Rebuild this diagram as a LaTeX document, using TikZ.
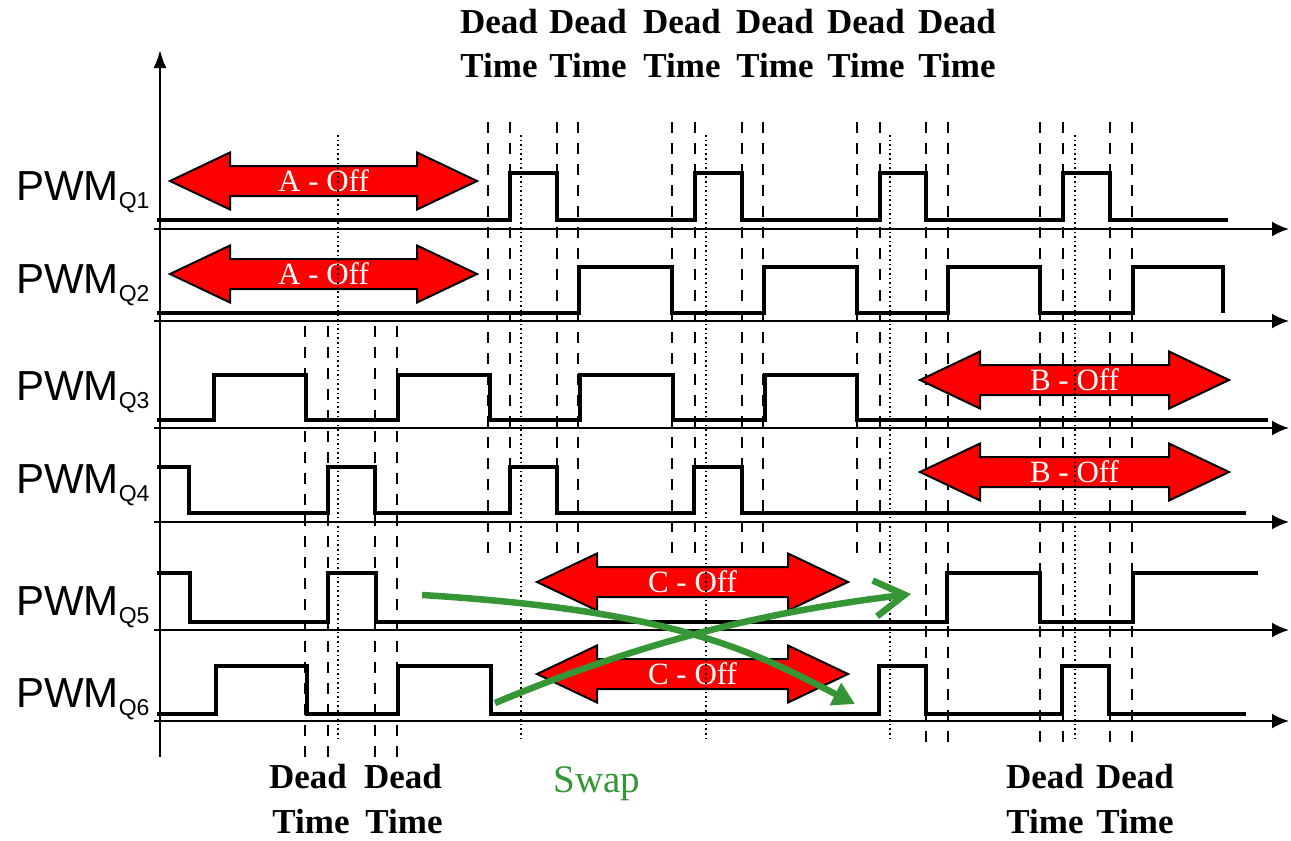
\documentclass[tikz,border=0pt]{standalone}
\usepackage{fontspec}
\setmainfont{Liberation Serif}
\newfontfamily\arialf{Liberation Sans}
\usetikzlibrary{arrows.meta}
\definecolor{swapgreen}{RGB}{52,150,52}
\newcommand\offarrow[5]{%
  \draw[redarrow] (#2,#4) -- ({#2+60},{#4-28.5}) -- ({#2+60},{#4-15}) -- ({#3-60},{#4-15}) -- ({#3-60},{#4-28.5}) -- (#3,#4) -- ({#3-60},{#4+28.5}) -- ({#3-60},{#4+15}) -- ({#2+60},{#4+15}) -- ({#2+60},{#4+28.5}) -- cycle;
  \node[offtext] (#1) at ({(#2+#3)/2},#4) {#5};
}
\begin{document}
\begin{tikzpicture}[x=1pt,y=-1pt,
  wave/.style={line width=3.5pt, line join=miter},
  axisline/.style={line width=2.2pt, -{Latex[length=17pt,width=15pt]}},
  dtline/.style={line width=2.5pt, dash pattern=on 11pt off 10pt},
  midline/.style={line width=1.6pt, dash pattern=on 1.6pt off 3pt},
  redarrow/.style={fill=red, draw=black, line width=2pt, line join=miter},
  offtext/.style={text=white, font=\fontsize{31}{31}\selectfont, inner sep=0pt},
  dtlabel/.style={font=\bfseries\fontsize{35}{35}\selectfont, inner sep=0pt, anchor=base},
  pwmlabel/.style={anchor=base west, inner sep=0pt, font=\arialf\fontsize{42}{42}\selectfont},
  swaparrow/.style={draw=swapgreen, line width=6.5pt}
]
\fill[white] (0,0) rectangle (1291,841);
\useasboundingbox (0,0) rectangle (1291,841);

% vertical axis
\coordinate (vbot) at (160,757);
\coordinate (vtop) at (160,50);
\draw[line width=2.2pt, -{Latex[length=18pt,width=13pt]}] (vbot) -- (vtop);

% horizontal axes
\foreach \i/\y in {1/229,2/321,3/428,4/522,5/630,6/721} {
  \coordinate (ax\i s) at (154,\y);
  \coordinate (ax\i e) at (1289,\y);
  \draw[axisline] (ax\i s) -- (ax\i e);
}

% waveforms
\draw[wave] (157,220) -- (510,220) -- (510,173) -- (557,173) -- (557,220) -- (695,220) -- (695,173) -- (742,173) -- (742,220) -- (880,220) -- (880,173) -- (926,173) -- (926,220) -- (1063,220) -- (1063,173) -- (1110,173) -- (1110,220) -- (1228,220);
\draw[wave] (157,313) -- (579,313) -- (579,267) -- (672,267) -- (672,313) -- (764,313) -- (764,267) -- (857,267) -- (857,313) -- (948,313) -- (948,267) -- (1040,267) -- (1040,313) -- (1133,313) -- (1133,267) -- (1223,267) -- (1223,313);
\draw[wave] (157,420) -- (214,420) -- (214,375) -- (306,375) -- (306,420) -- (398,420) -- (398,375) -- (490,375) -- (490,420) -- (580,420) -- (580,375) -- (673,375) -- (673,420) -- (765,420) -- (765,375) -- (857,375) -- (857,420) -- (1268,420);
\draw[wave] (157,467) -- (189,467) -- (189,513) -- (328,513) -- (328,467) -- (375,467) -- (375,513) -- (510,513) -- (510,467) -- (557,467) -- (557,513) -- (694,513) -- (694,467) -- (742,467) -- (742,513) -- (1246,513);
\draw[wave] (157,573) -- (190,573) -- (190,622) -- (328,622) -- (328,573) -- (376,573) -- (376,622) -- (947,622) -- (947,573) -- (1040,573) -- (1040,622) -- (1133,622) -- (1133,573) -- (1258,573);
\draw[wave] (157,714) -- (216,714) -- (216,666) -- (307,666) -- (307,714) -- (398,714) -- (398,666) -- (491,666) -- (491,714) -- (879,714) -- (879,666) -- (926,666) -- (926,714) -- (1062,714) -- (1062,666) -- (1109,666) -- (1109,714) -- (1246,714);

% dead-time lines
\foreach \x in {305,328,375,397} \draw[dtline] (\x,326) -- (\x,763);
\foreach \x in {488,510,557,578,672,695,742,763,857,880} \draw[dtline] (\x,122) -- (\x,557);
\foreach \x in {926,948,1040,1063,1110,1132} \draw[dtline] (\x,122) -- (\x,750);

% off arrows
\offarrow{aoff1}{170}{477}{181}{A - Off}
\offarrow{aoff2}{170}{477}{274}{A - Off}
\offarrow{boff1}{920}{1229}{380}{B - Off}
\offarrow{boff2}{920}{1229}{472}{B - Off}
\offarrow{coff1}{537}{848}{582}{C - Off}
\offarrow{coff2}{537}{848}{674}{C - Off}

% mid (dotted) lines
\foreach \x in {338,521,706,890,1075} \draw[midline] (\x,135) -- (\x,740);

% swap arrows
\coordinate (sw1s) at (422,595);
\coordinate (sw1e) at (855,704);
\coordinate (sw2s) at (495,703);
\coordinate (sw2e) at (911,594);
\draw[swaparrow, -{Triangle[length=22pt,width=24pt]}] (sw1s) .. controls (682,611) and (755,653) .. (sw1e);
\draw[swaparrow, -{Straight Barb[length=30pt,width=36pt]}] (sw2s) .. controls (655,636) and (780,610) .. (sw2e);

% labels
\node[pwmlabel] (l1) at (16,200) {PWM\raisebox{-8pt}{\fontsize{23}{23}\selectfont Q1}};
\node[pwmlabel] (l2) at (16,293) {PWM\raisebox{-8pt}{\fontsize{23}{23}\selectfont Q2}};
\node[pwmlabel] (l3) at (16,400) {PWM\raisebox{-8pt}{\fontsize{23}{23}\selectfont Q3}};
\node[pwmlabel] (l4) at (16,493) {PWM\raisebox{-8pt}{\fontsize{23}{23}\selectfont Q4}};
\node[pwmlabel] (l5) at (16,615) {PWM\raisebox{-8pt}{\fontsize{23}{23}\selectfont Q5}};
\node[pwmlabel] (l6) at (16,707) {PWM\raisebox{-8pt}{\fontsize{23}{23}\selectfont Q6}};

\foreach \x [count=\i] in {499,588,682,775,866,957} {
  \node[dtlabel] (td\i) at (\x,33) {Dead};
  \node[dtlabel] (tt\i) at (\x,77) {Time};
}
\node[dtlabel] (bd1) at (308,788) {Dead};
\node[dtlabel] (bd2) at (403,788) {Dead};
\node[dtlabel] (bt1) at (311,833) {Time};
\node[dtlabel] (bt2) at (404,833) {Time};
\node[dtlabel] (bd3) at (1045,788) {Dead};
\node[dtlabel] (bd4) at (1135,788) {Dead};
\node[dtlabel] (bt3) at (1045,833) {Time};
\node[dtlabel] (bt4) at (1135,833) {Time};

\node[anchor=base, inner sep=0pt, text=swapgreen, font=\fontsize{39}{39}\selectfont] (swap) at (597,792) {Swap};
\end{tikzpicture}
\end{document}
